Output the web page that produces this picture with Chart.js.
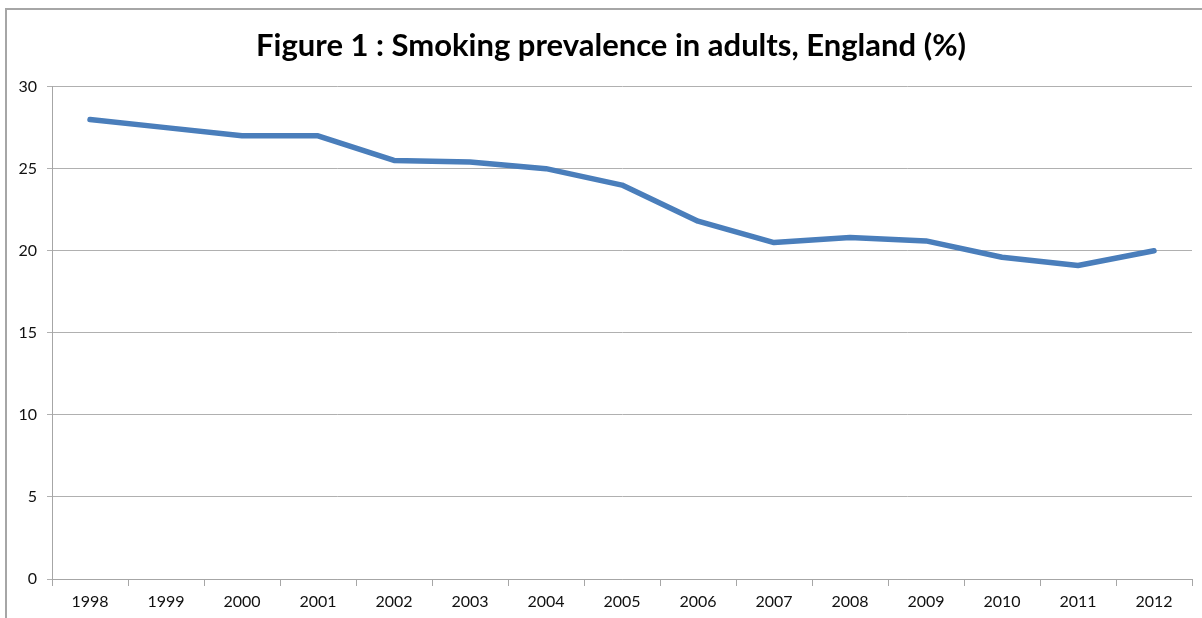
<!DOCTYPE html>
<html>
<head>
<meta charset="utf-8">
<script src="https://cdn.jsdelivr.net/npm/chart.js@4/dist/chart.umd.min.js"></script>
<style>
  html, body { margin: 0; padding: 0; background: #fff; }
  #wrap { position: relative; width: 1202px; height: 618px; }
  #frame { position: absolute; left: 5px; top: 8px; right: 0; bottom: 0;
           border-top: 2px solid #a6a6a6; border-left: 2px solid #a6a6a6; }
  canvas { position: absolute; left: 0; top: 0; }
</style>
</head>
<body>
<div id="wrap">
  <div id="frame"></div>
  <canvas id="smokingChart" width="1202" height="618"></canvas>
</div>
<script>
var years = ['1998', '1999', '2000', '2001', '2002', '2003', '2004', '2005',
             '2006', '2007', '2008', '2009', '2010', '2011', '2012'];
var prevalence = [28, 27.5, 27, 27, 25.5, 25.4, 25, 24, 21.8, 20.5, 20.8, 20.6, 19.6, 19.1, 20];
var yTicks = [0, 5, 10, 15, 20, 25, 30];

var labelFont = { family: 'Lato, "Open Sans", sans-serif', size: 16 };

var chart = new Chart(document.getElementById('smokingChart'), {
  type: 'line',
  data: {
    labels: years,
    datasets: [{
      label: 'Smoking prevalence',
      data: prevalence,
      borderColor: '#4a7ebb',
      borderWidth: 5.5,
      pointRadius: 0,
      borderCapStyle: 'round',
      borderJoinStyle: 'round',
      fill: false,
      tension: 0
    }]
  },
  options: {
    responsive: false,
    animation: false,
    layout: { padding: { top: 9, right: 10, bottom: 0, left: 0 } },
    plugins: {
      legend: { display: false },
      tooltip: { enabled: false },
      title: {
        display: true,
        // leading nbsp's nudge the centred title a bit to the right, like the original
        text: '\u00A0\u00A0\u00A0\u00A0Figure 1 : Smoking prevalence in adults, England (%)',
        color: '#000',
        font: { family: 'Lato, "Open Sans", sans-serif', size: 31, weight: 'bold' },
        padding: { top: 18, bottom: 22.4 }
      }
    },
    scales: {
      x: {
        offset: true,
        grid: { offset: true, drawOnChartArea: false, drawTicks: true, tickLength: 7, color: '#a6a6a6' },
        border: { color: '#a6a6a6', width: 1 },
        ticks: { color: '#111', font: labelFont, padding: 6, maxRotation: 0 },
        afterFit: function (scale) { scale.height = 39; }
      },
      y: {
        min: 0,
        max: 30,
        afterBuildTicks: function (scale) { scale.ticks = yTicks.map(v => ({ value: v })); },
        grid: { color: '#b0b0b0', tickLength: 5, lineWidth: 1 },
        border: { color: '#a6a6a6', width: 1 },
        ticks: { color: '#111', font: labelFont, padding: 10 },
        afterFit: function (scale) { scale.width = 52; }
      }
    }
  }
});
</script>
</body>
</html>
